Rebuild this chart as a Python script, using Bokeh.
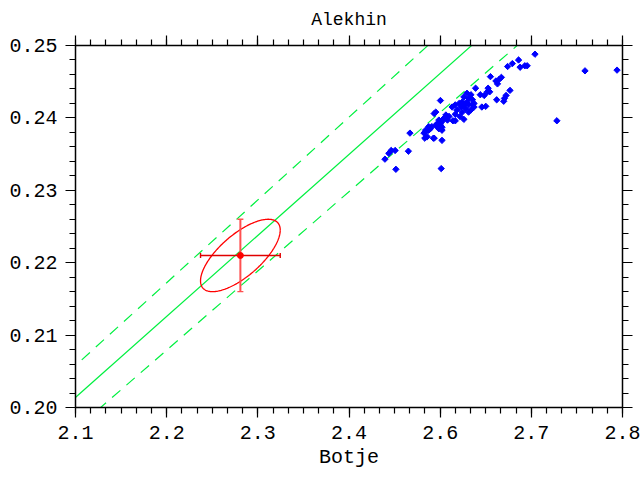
import numpy as np
from bokeh.plotting import figure
from bokeh.models import (LinearAxis, FixedTicker, CustomJSTickFormatter,
                          PrintfTickFormatter, Range1d)
from bokeh.embed import file_html
from bokeh.resources import INLINE

# ---------------- data ----------------
title_text = "Alekhin"
x_label = "Botje"
x_min, x_max = 2.1, 2.8
y_min, y_max = 0.20, 0.25
x_tick_labels = ["2.1", "2.2", "2.3", "2.4", "2.6", "2.7", "2.8"]
y_tick_values = [0.20, 0.21, 0.22, 0.23, 0.24, 0.25]

botje = [2.688, 2.752, 2.793, 2.716, 2.667, 2.659, 2.653, 2.669, 2.675, 2.678,
         2.631, 2.645, 2.642, 2.638, 2.640, 2.656, 2.651, 2.649, 2.639, 2.648,
         2.612, 2.628, 2.627, 2.630, 2.618, 2.623, 2.620, 2.625, 2.567, 2.597,
         2.586, 2.583, 2.561, 2.559, 2.528, 2.504, 2.509, 2.501, 2.496, 2.526,
         2.510, 2.568, 2.547, 2.558, 2.569, 2.552, 2.548, 2.567, 2.569,
         2.601, 2.597, 2.606, 2.603, 2.608, 2.601, 2.595, 2.591, 2.597, 2.603,
         2.608, 2.610, 2.599, 2.593, 2.586, 2.582, 2.588, 2.595, 2.603, 2.606,
         2.610,
         2.574, 2.578, 2.571, 2.576, 2.569, 2.565, 2.563, 2.567, 2.565, 2.569,
         2.563, 2.561, 2.554, 2.552, 2.548, 2.546, 2.550, 2.559, 2.556,
         2.586, 2.592]
alekhin = [0.2488, 0.2465, 0.2466, 0.2396, 0.2480, 0.2475, 0.2471, 0.2470, 0.2472, 0.2472,
           0.2457, 0.2456, 0.2453, 0.2451, 0.2447, 0.2438, 0.2431, 0.2427, 0.2425, 0.2423,
           0.2441, 0.2441, 0.2436, 0.2436, 0.2432, 0.2431, 0.2415, 0.2416, 0.2424, 0.2398,
           0.2396, 0.2396, 0.2408, 0.2406, 0.2379, 0.2355, 0.2355, 0.2351, 0.2343, 0.2354,
           0.2329, 0.2330, 0.2372, 0.2372, 0.2369, 0.2388, 0.2383, 0.2393, 0.2387,
           0.2434, 0.2429, 0.2432, 0.2427, 0.2425, 0.2422, 0.2422, 0.2420, 0.2418, 0.2418,
           0.2419, 0.2420, 0.2413, 0.2415, 0.2418, 0.2415, 0.2411, 0.2408, 0.2408, 0.2411,
           0.2415,
           0.2404, 0.2402, 0.2399, 0.2397, 0.2395, 0.2397, 0.2392, 0.2390, 0.2385, 0.2383,
           0.2388, 0.2390, 0.2385, 0.2383, 0.2381, 0.2379, 0.2374, 0.2372, 0.2388,
           0.2405, 0.2402]

ratio_central = 0.0959
ratio_band = 0.0021

fit_x, fit_y = 2.311, 0.2210
fit_sx, fit_sy = 0.051, 0.0050
fit_rho = 0.70

# ---------------- styles ----------------
FONT = "Liberation Mono"
GREEN = "#00f040"
RED = "#ff0000"
BLUE = "#0000ff"

p = figure(width=642, height=477, output_backend="svg", toolbar_location=None,
           x_range=Range1d(x_min, x_max), y_range=Range1d(y_min, y_max),
           x_axis_type=None, y_axis_type=None,
           min_border_left=75, min_border_right=20,
           min_border_top=45, min_border_bottom=70)
p.grid.visible = False
p.outline_line_color = None
p.background_fill_color = "white"
p.border_fill_color = "white"

p.title.text = title_text
p.title.align = "center"
p.title.offset = -11
p.title.text_font = FONT
p.title.text_font_size = "18px"
p.title.text_font_style = "normal"
p.title.text_color = "black"
p.title.standoff = 11

n_x = len(x_tick_labels)
x_major = list(np.linspace(x_min, x_max, n_x))
x_minor = list(np.linspace(x_min, x_max, (n_x - 1) * 6 + 1))
y_minor = list(np.linspace(y_min, y_max, (len(y_tick_values) - 1) * 5 + 1))

x_fmt = CustomJSTickFormatter(args=dict(labels=x_tick_labels, lo=x_min,
                                        step=(x_max - x_min) / (n_x - 1)),
                              code="const i = Math.round((tick - lo) / step); return labels[i];")
blank_fmt = CustomJSTickFormatter(code="return '';")


def style(ax, labels=True):
    ax.major_tick_out = 10
    ax.major_tick_in = 0
    ax.minor_tick_out = 6
    ax.minor_tick_in = 0
    ax.axis_line_width = 1.5
    ax.major_tick_line_width = 1.2
    ax.minor_tick_line_width = 1.2
    ax.axis_line_color = "black"
    ax.major_tick_line_color = "black"
    ax.minor_tick_line_color = "black"
    if labels:
        ax.major_label_text_font = FONT
        ax.major_label_text_font_size = "20px"
        ax.major_label_text_color = "black"
        ax.major_label_standoff = 8
        ax.axis_label_text_font = FONT
        ax.axis_label_text_font_size = "20px"
        ax.axis_label_text_font_style = "normal"
        ax.axis_label_text_color = "black"
        ax.axis_label_standoff = 4
    else:
        ax.major_label_text_font_size = "0px"
        ax.major_label_standoff = 0


xb = LinearAxis(ticker=FixedTicker(ticks=x_major, minor_ticks=x_minor), formatter=x_fmt,
                axis_label=x_label)
style(xb)
xt = LinearAxis(ticker=FixedTicker(ticks=x_major, minor_ticks=x_minor), formatter=blank_fmt)
style(xt, labels=False)
yl = LinearAxis(ticker=FixedTicker(ticks=y_tick_values, minor_ticks=y_minor),
                formatter=PrintfTickFormatter(format="%.2f"))
style(yl)
yr = LinearAxis(ticker=FixedTicker(ticks=y_tick_values, minor_ticks=y_minor), formatter=blank_fmt)
style(yr, labels=False)
p.add_layout(xb, "below")
p.add_layout(xt, "above")
p.add_layout(yl, "left")
p.add_layout(yr, "right")

# ratio lines
lx = np.array([x_min - 0.1, x_max + 0.1])
p.line(lx, ratio_central * lx, line_color=GREEN, line_width=1.2)
p.line(lx, (ratio_central + ratio_band) * lx, line_color=GREEN, line_width=1.2, line_dash="11 8")
p.line(lx, (ratio_central - ratio_band) * lx, line_color=GREEN, line_width=1.2, line_dash="11 8")

# scatter
p.scatter(botje, alekhin, marker="square", angle=np.pi / 4, size=4.5,
          fill_color=BLUE, line_color=BLUE, line_width=1)

# fit ellipse with error bars
t = np.linspace(0, 2 * np.pi, 241)
ex = fit_x + fit_sx * np.cos(t)
ey = fit_y + fit_sy * (fit_rho * np.cos(t) + np.sqrt(1 - fit_rho ** 2) * np.sin(t))
p.line(ex, ey, line_color=RED, line_width=1.3)
p.segment([fit_x - fit_sx], [fit_y], [fit_x + fit_sx], [fit_y], line_color="#e00000", line_width=1.4)
p.segment([fit_x], [fit_y - fit_sy], [fit_x], [fit_y + fit_sy], line_color="#ff5050", line_width=2)
p.scatter([fit_x - fit_sx, fit_x + fit_sx], [fit_y, fit_y], marker="dash", angle=np.pi / 2,
          size=5, line_color="#e00000", line_width=1.4)
p.scatter([fit_x, fit_x], [fit_y - fit_sy, fit_y + fit_sy], marker="dash",
          size=6, line_color="#ff5050", line_width=1.4)
p.scatter([fit_x], [fit_y], marker="circle", size=6, fill_color=RED, line_color=RED)

open("out.html", "w").write(file_html(p, INLINE))
